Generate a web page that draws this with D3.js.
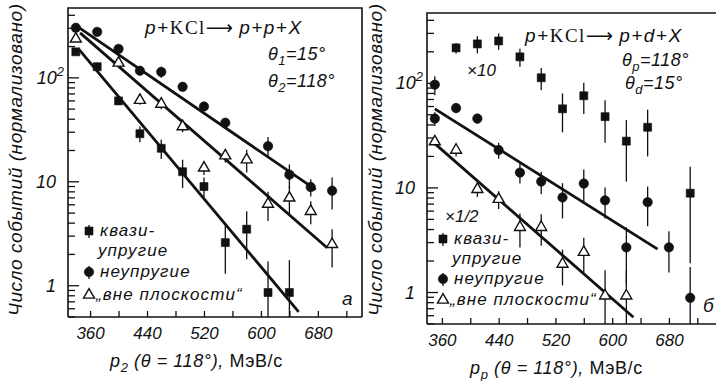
<!DOCTYPE html>
<html>
<head>
<meta charset="utf-8">
<script src="https://cdn.jsdelivr.net/npm/d3@7"></script>
<style>
    body { margin: 0; background: #fff; }
    text { font-family: "Liberation Sans", Arial, sans-serif; font-style: italic; fill: #111; }
    .serif { font-family: "Liberation Serif", serif; font-style: normal; }
    .upright { font-style: normal; }
    .arrow { font-family: "DejaVu Sans", sans-serif; font-style: normal; }
</style>
</head>
<body>
<script>
//panel a: p + KCl -> p + p + X (momentum in MeV/c, events normalised)
var quasiA_p = [340, 370, 400, 430, 460, 490, 520, 550, 580, 610, 640];
var quasiA_n = [178, 128, 60, 29, 21, 12.5, 9.0, 2.6, 3.5, 0.86, 0.86];
var quasiA_err = [10, 12, 5, 5, 4.4, 3.8, 2, 1.3, 1.7, 0.85, 0.9];

var inelA_p = [340, 370, 400, 430, 460, 490, 520, 550, 610, 640, 670, 700];
var inelA_n = [303, 277, 190, 117, 114, 82, 53, 37, 22, 11.7, 8.9, 8.2];
var inelA_err = [15, 15, 15, 8, 14, 7, 4, 3, 5, 3, 1.7, 2.8];

var outA_p = [340, 400, 430, 460, 490, 520, 550, 580, 610, 640, 670, 700];
var outA_n = [237, 139, 61, 56, 34, 13.6, 17.8, 16.3, 6.1, 7.0, 5.2, 2.5];
var outA_err = [15, 10, 6, 6, 4, 2, 2.5, 4, 1.9, 2.1, 1.3, 1.0];

//fitted lines, panel a: [p, n] end points
var fitA_quasi = [[345, 186], [653, 0.56]];
var fitA_inel = [[343, 309], [677, 8.4]];
var fitA_out = [[346, 271], [693, 2.32]];

//panel б: p + KCl -> p + d + X
var quasiB_p = [380, 410, 440, 470, 500, 530, 560, 590, 620, 650, 710];
var quasiB_n = [218, 238, 254, 179, 113, 57, 76, 48, 28, 38, 8.9];
var quasiB_err = [25, 45, 45, 35, 27, 23, 25, 21, 16.5, 18, 7];

var inelB_p = [350, 350, 380, 410, 440, 470, 500, 530, 560, 590, 620, 650, 680, 710];
var inelB_n = [97, 46, 58, 46, 23, 14, 11.5, 8.1, 11, 7.6, 2.7, 7.3, 2.7, 0.89];
var inelB_err = [20, 7, 6, 5, 4, 3, 2.8, 3, 4, 2.5, 1.5, 3, 1.15, 0.86];

var outB_p = [350, 380, 410, 440, 470, 500, 530, 560, 590, 620];
var outB_n = [27.7, 23, 9.7, 7.8, 4.2, 4.2, 1.87, 2.43, 0.93, 0.93];
var outB_err = [2, 3, 1.5, 1.5, 1.5, 1.4, 0.7, 0.9, 0.7, 0.7];

var fitB_inel = [[350, 57], [664, 2.6]];
var fitB_out = [[350, 26.5], [630, 0.58]];

//axis ticks
var xTicks = [360, 400, 440, 480, 520, 560, 600, 640, 680, 720];
var xTickLabels = [360, 440, 520, 600, 680];
var yMinorTicks = [0.5, 0.6, 0.7, 0.8, 0.9, 2, 3, 4, 5, 6, 7, 8, 9, 20, 30, 40, 50, 60, 70, 80, 90, 200, 300, 400];
var yMajorTicks = [1, 10, 100];
var yLabels = ["1", "10", "10"];
var yLabelSup = ["", "", "2"];
var yDomain = [0.5, 470];

var legendNames = ["квази-", "упругие", "неупругие", "„вне плоскости“"];
var yTitle = "Число событий (нормализовано)";

function zip(p, n, e){
    return p.map(function(d, i){ return {p: d, n: n[i], e: e[i]}; });
}

window.onload = function(){
    var svg = d3.select("body")
        .append("svg")
        .attr("width", 716)
        .attr("height", 381)
        .style("background-color", "#fff");

    //marker generators
    var sq = d3.symbol().type(d3.symbolSquare).size(64);
    var circ = d3.symbol().type(d3.symbolCircle).size(70);
    var tri = d3.symbol().type(d3.symbolTriangle).size(52);

    function drawPanel(o){
        var x = d3.scaleLinear().domain(o.xDomain).range(o.xRange);
        var y = d3.scaleLog().domain(yDomain).range(o.yRange);
        var g = svg.append("g");

        //frame
        g.append("path")
            .attr("d", "M" + o.xRange[0] + "," + o.yRange[0] + "V" + o.yRange[1] + "H" + o.xRange[1] + (o.rightEdge ? "V" + o.yRange[0] : ""))
            .attr("fill", "none")
            .attr("stroke", "#111")
            .attr("stroke-width", 1.6);
        g.append("line")
            .attr("x1", o.xRange[0]).attr("x2", o.xRange[1])
            .attr("y1", o.yRange[0]).attr("y2", o.yRange[0])
            .attr("stroke", "#111")
            .attr("stroke-width", 1.6);

        //x axis, ticks pointing inside
        var xAxis = d3.axisBottom(x)
            .tickValues(xTicks)
            .tickSizeInner(-6)
            .tickSizeOuter(0)
            .tickPadding(10)
            .tickFormat(function(d){ return xTickLabels.indexOf(d) >= 0 ? d : ""; });
        var ax = g.append("g")
            .attr("transform", "translate(0," + o.yRange[0] + ")")
            .call(xAxis);
        ax.select(".domain").remove();
        ax.selectAll("line").attr("stroke", "#111").attr("stroke-width", 1.3);
        ax.selectAll("text")
            .attr("font-family", null)
            .attr("font-size", 17)
            .attr("fill", "#111");

        //y axis, minor and major ticks
        g.selectAll(".ytick")
            .data(yMinorTicks.concat(yMajorTicks))
            .enter()
            .append("line")
            .attr("x1", o.xRange[0])
            .attr("x2", function(d){ return o.xRange[0] + (yMajorTicks.indexOf(d) >= 0 ? 11 : 7); })
            .attr("y1", function(d){ return y(d); })
            .attr("y2", function(d){ return y(d); })
            .attr("stroke", "#111")
            .attr("stroke-width", 1.3);

        var yl = g.selectAll(".ylab")
            .data(yMajorTicks)
            .enter()
            .append("text")
            .attr("x", o.yLabelX)
            .attr("y", function(d){ return y(d) + 6; })
            .attr("text-anchor", "end")
            .attr("font-size", 18);
        yl.append("tspan").text(function(d, i){ return yLabels[i]; });
        yl.append("tspan")
            .attr("dy", -8)
            .attr("font-size", 13)
            .text(function(d, i){ return yLabelSup[i]; });
        yl.attr("dx", function(d, i){ return yLabelSup[i] ? 8 : 0; });

        //y title
        g.append("text")
            .attr("transform", "translate(" + o.yTitleX + "," + o.yTitleY + ") rotate(-90)")
            .attr("text-anchor", "middle")
            .attr("font-size", 19)
            .attr("textLength", 312)
            .attr("lengthAdjust", "spacing")
            .text(yTitle);

        //fit lines
        var line = d3.line()
            .x(function(d){ return x(d[0]); })
            .y(function(d){ return y(d[1]); });
        o.fits.forEach(function(f){
            g.append("path")
                .attr("d", line(f))
                .attr("fill", "none")
                .attr("stroke", "#111")
                .attr("stroke-width", 2.8);
        });

        //data series: error bars then markers
        o.series.forEach(function(s){
            var sg = g.append("g").attr("class", s.cls);
            sg.selectAll("line")
                .data(s.data)
                .enter()
                .append("line")
                .attr("x1", function(d){ return x(d.p); })
                .attr("x2", function(d){ return x(d.p); })
                .attr("y1", function(d){ return y(d.n + d.e); })
                .attr("y2", function(d){ return y(Math.max(d.n - d.e, yDomain[0])); })
                .attr("stroke", "#111")
                .attr("stroke-width", 1.3);
            sg.selectAll("path")
                .data(s.data)
                .enter()
                .append("path")
                .attr("d", s.sym)
                .attr("transform", function(d){ return "translate(" + x(d.p) + "," + y(d.n) + ")"; })
                .attr("fill", s.open ? "#fff" : "#111")
                .attr("stroke", "#111")
                .attr("stroke-width", s.open ? 1.4 : 0.6);
        });

        //legend
        var lx = o.legendX;
        var lg = g.append("g");
        [[sq, false, o.legendY[0]], [circ, false, o.legendY[2]], [tri, true, o.legendY[3]]].forEach(function(m){
            lg.append("line")
                .attr("x1", lx).attr("x2", lx)
                .attr("y1", m[2] - 11).attr("y2", m[2] + 2)
                .attr("stroke", "#111").attr("stroke-width", 1.3)
                .attr("opacity", m[1] ? 0 : 1);
            lg.append("path")
                .attr("d", m[0])
                .attr("transform", "translate(" + lx + "," + (m[2] - 5) + ")")
                .attr("fill", m[1] ? "#fff" : "#111")
                .attr("stroke", "#111")
                .attr("stroke-width", m[1] ? 1.4 : 0.6);
        });
        lg.selectAll("text")
            .data(legendNames)
            .enter()
            .append("text")
            .attr("x", function(d, i){ return lx + (i == 1 ? 9 : (i == 3 ? 7 : 11)); })
            .attr("y", function(d, i){ return o.legendY[i]; })
            .attr("font-size", 17)
            .attr("letter-spacing", 1.1)
            .text(function(d){ return d; });

        return {x: x, y: y, g: g};
    }

    //panel a
    var pa = drawPanel({
        xDomain: [329, 742], xRange: [68, 362], yRange: [317, 8], rightEdge: true,
        yLabelX: 56, yTitleX: 22, yTitleY: 160,
        legendX: 89, legendY: [236, 256, 277, 300],
        fits: [fitA_quasi, fitA_inel, fitA_out],
        series: [
            {cls: "quasi", data: zip(quasiA_p, quasiA_n, quasiA_err), sym: sq},
            {cls: "inel", data: zip(inelA_p, inelA_n, inelA_err), sym: circ},
            {cls: "out", data: zip(outA_p, outA_n, outA_err), sym: tri, open: true}
        ]
    });

    //panel б
    var pb = drawPanel({
        xDomain: [339, 752], xRange: [427, 720], yRange: [324, 13], rightEdge: false,
        yLabelX: 415, yTitleX: 382, yTitleY: 160,
        legendX: 443, legendY: [244, 264, 284, 305],
        fits: [fitB_inel, fitB_out],
        series: [
            {cls: "quasi", data: zip(quasiB_p, quasiB_n, quasiB_err), sym: sq},
            {cls: "inel", data: zip(inelB_p, inelB_n, inelB_err), sym: circ},
            {cls: "out", data: zip(outB_p, outB_n, outB_err), sym: tri, open: true}
        ]
    });

    //reaction titles
    function reaction(xp, yp, last){
        var t = svg.append("text").attr("x", xp).attr("y", yp).attr("font-size", 19).attr("letter-spacing", 1.5);
        t.append("tspan").text("p+");
        t.append("tspan").attr("class", "serif").text("KCl");
        t.append("tspan").attr("class", "arrow").attr("letter-spacing", 0).text("\u27f6 ");
        t.append("tspan").text(last);
    }
    reaction(145, 34, "p+p+X");
    reaction(525, 42, "p+d+X");

    //angle labels with subscripts
    function angle(xp, yp, sub, val){
        var t = svg.append("text").attr("x", xp).attr("y", yp).attr("font-size", 18).attr("letter-spacing", 0.5);
        t.append("tspan").text("\u03b8");
        t.append("tspan").attr("dy", 5).attr("font-size", 13).text(sub);
        t.append("tspan").attr("dy", -5).text("=" + val + "°");
    }
    angle(268, 60, "1", "15");
    angle(268, 87, "2", "118");
    angle(622, 66, "p", "118");
    angle(625, 89, "d", "15");

    //scale factors
    svg.append("text").attr("x", 467).attr("y", 76).attr("font-size", 17).text("×10");
    svg.append("text").attr("x", 445).attr("y", 222).attr("font-size", 17).text("×1/2");

    //panel letters
    svg.append("text").attr("x", 342).attr("y", 305).attr("font-size", 19).text("а");
    svg.append("text").attr("x", 703).attr("y", 312).attr("font-size", 19).text("б");

    //x axis titles
    function xTitle(xp, yp, sub){
        var t = svg.append("text").attr("x", xp).attr("y", yp).attr("font-size", 18).attr("letter-spacing", 0.6);
        t.append("tspan").text("p");
        t.append("tspan").attr("dy", 5).attr("font-size", 13).text(sub);
        t.append("tspan").attr("dy", -5).text(" (\u03b8 = 118°), ");
        t.append("tspan").attr("class", "upright").text("МэВ/с");
    }
    xTitle(110, 367, "2");
    xTitle(470, 374, "p");
};
</script>
</body>
</html>
